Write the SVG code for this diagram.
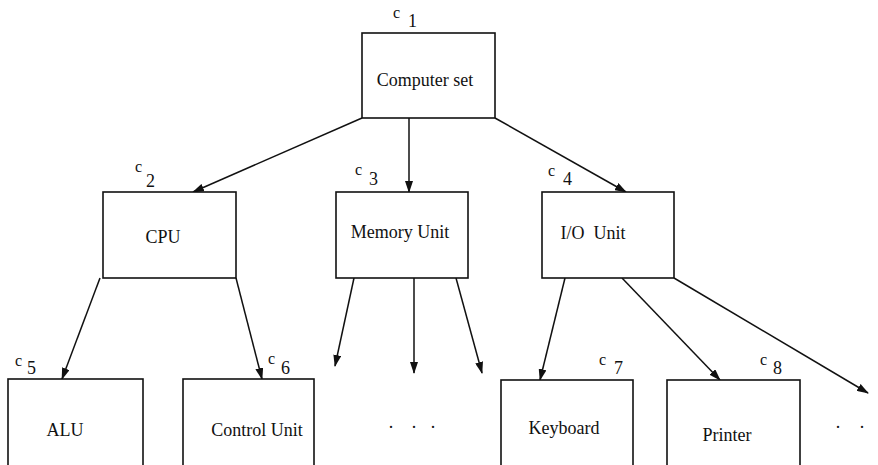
<svg xmlns="http://www.w3.org/2000/svg" width="878" height="465" viewBox="0 0 878 465">
<style>
.box{fill:#fff;stroke:#111;stroke-width:1.6}
.lbl{font-family:"Liberation Serif","Times New Roman",serif;font-size:18px;fill:#111;text-anchor:middle}
.c{font-family:"Liberation Serif","Times New Roman",serif;font-size:16px;fill:#111}
.n{font-family:"Liberation Serif","Times New Roman",serif;font-size:18px;fill:#111}
.dot{font-family:"Liberation Serif","Times New Roman",serif;font-size:18px;fill:#111;text-anchor:middle}
.edge{stroke:#111;stroke-width:1.5;fill:none;marker-end:url(#ah)}
</style>
<defs>
<marker id="ah" markerWidth="12" markerHeight="8" refX="11" refY="4" orient="auto" markerUnits="userSpaceOnUse">
<path d="M0,0 L12,4 L0,8 Z" fill="#111"/>
</marker>
</defs>
<rect width="878" height="465" fill="#fff"/>
<g id="connectors">
<line class="edge" x1="362" y1="118" x2="193" y2="192"/>
<line class="edge" x1="409" y1="118" x2="409" y2="192"/>
<line class="edge" x1="495" y1="118" x2="626" y2="192"/>
<line class="edge" x1="100" y1="278" x2="62" y2="379"/>
<line class="edge" x1="236" y1="278" x2="262" y2="379"/>
<line class="edge" x1="354" y1="278" x2="335" y2="366"/>
<line class="edge" x1="414" y1="278" x2="414" y2="373"/>
<line class="edge" x1="456" y1="278" x2="482" y2="373"/>
<line class="edge" x1="565" y1="278" x2="540" y2="380"/>
<line class="edge" x1="622" y1="278" x2="720" y2="380"/>
<line class="edge" x1="674" y1="278" x2="868" y2="393"/>
</g>
<g id="c1">
<rect class="box" x="362" y="33" width="133" height="85"/>
<text class="lbl" x="425" y="86">Computer set</text>
<text class="c" x="393" y="18">c</text><text class="n" x="408" y="27">1</text>
</g>
<g id="c2">
<rect class="box" x="103" y="192" width="133" height="86"/>
<text class="lbl" x="163" y="243">CPU</text>
<text class="c" x="135" y="172">c</text><text class="n" x="146" y="187">2</text>
</g>
<g id="c3">
<rect class="box" x="336" y="192" width="132" height="86"/>
<text class="lbl" x="400" y="238">Memory Unit</text>
<text class="c" x="355" y="175">c</text><text class="n" x="369" y="185">3</text>
</g>
<g id="c4">
<rect class="box" x="542" y="192" width="132" height="86"/>
<text class="lbl" x="593" y="239">I/O&#160; Unit</text>
<text class="c" x="548" y="176">c</text><text class="n" x="563" y="185">4</text>
</g>
<g id="c5">
<rect class="box" x="8" y="379" width="135" height="100"/>
<text class="lbl" x="65" y="436">ALU</text>
<text class="c" x="15" y="366">c</text><text class="n" x="27" y="374">5</text>
</g>
<g id="c6">
<rect class="box" x="183" y="379" width="131" height="100"/>
<text class="lbl" x="257" y="436">Control Unit</text>
<text class="c" x="268" y="364">c</text><text class="n" x="281" y="374">6</text>
</g>
<g id="dots1">
<text class="dot" x="391" y="428">.</text>
<text class="dot" x="414" y="428">.</text>
<text class="dot" x="433" y="428">.</text>
</g>
<g id="c7">
<rect class="box" x="501" y="380" width="132" height="100"/>
<text class="lbl" x="564" y="434">Keyboard</text>
<text class="c" x="599" y="365">c</text><text class="n" x="614" y="374">7</text>
</g>
<g id="c8">
<rect class="box" x="667" y="380" width="133" height="100"/>
<text class="lbl" x="727" y="441">Printer</text>
<text class="c" x="760" y="365">c</text><text class="n" x="773" y="374">8</text>
</g>
<g id="dots2">
<text class="dot" x="838" y="428">.</text>
<text class="dot" x="862" y="428">.</text>
</g>
</svg>
